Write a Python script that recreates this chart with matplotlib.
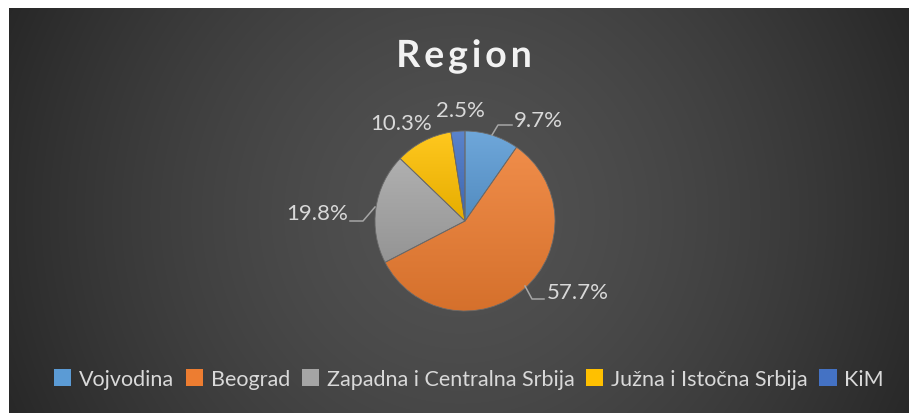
import numpy as np
import matplotlib.pyplot as plt
from matplotlib.patches import Patch
import matplotlib.colors as mcolors
import matplotlib.patheffects as pe

plt.rcParams['font.family'] = ['Lato', 'DejaVu Sans']

title = 'Region'
regions = ['Vojvodina', 'Beograd', 'Zapadna i Centralna Srbija', 'Južna i Istočna Srbija', 'KiM']
shares = [9.7, 57.7, 19.8, 10.3, 2.5]
colors = ['#5B9BD5', '#ED7D31', '#A5A5A5', '#FFC000', '#4472C4']

W, H = 909, 414
fig = plt.figure(figsize=(W / 100, H / 100), dpi=100)
fig.patch.set_facecolor('white')

# radial gradient background (chart area from x=9, y=9)
bg = fig.add_axes([9 / W, 0, 1 - 9 / W, 1 - 9 / H])
yy, xx = np.mgrid[9:H, 9:W]
d = np.sqrt((xx - 460.0) ** 2 + (yy - 215.0) ** 2)
t = np.clip(d / 500.0, 0, 1) ** 1.5
g = (0x52 - (0x52 - 0x27) * t) / 255.0
bg.imshow(np.dstack([g, g, g]), aspect='auto', extent=[0, 1, 0, 1], origin='upper')
bg.set_axis_off()

# pie axes: center (465, 222), radius 90 px
R = 90
cx, cy = 465, 222
ax = fig.add_axes([(cx - R) / W, (H - cy - R) / H, 2 * R / W, 2 * R / H])
wedges, _ = ax.pie(shares, colors=colors, startangle=90, counterclock=False,
                   radius=1, wedgeprops=dict(edgecolor='#6a6a6a', linewidth=0.6))
ax.set_aspect('equal')
ax.set_axis_off()

# vertical gradient per slice, lighter at top
inv = ax.transData.inverted()
for w, c in zip(wedges, colors):
    base = np.array(mcolors.to_rgb(c))
    ext = w.get_path().get_extents(w.get_transform())
    top = base + (1 - base) * 0.12
    bot = base * 0.9
    v = np.linspace(0, 1, 64)[:, None, None]
    img = top[None, None, :] * (1 - v) + bot[None, None, :] * v
    img = np.repeat(img, 2, axis=1)
    (x0, y0), (x1, y1) = inv.transform([[ext.x0, ext.y0], [ext.x1, ext.y1]])
    im = ax.imshow(img, extent=[x0, x1, y0, y1], origin='upper', aspect='auto', zorder=1)
    im.set_clip_path(w)
    w.set_facecolor('none')
    w.set_zorder(2)
ax.set_xlim(-1, 1)
ax.set_ylim(-1, 1)

# data labels (pixel positions of label centers)
lab_col = '#D9D9D9'
lab_pos = [(538, 121), (578, 293), (317, 214), (401, 124), (460, 111)]
leaders = [[(492, 136), (498, 126), (512, 126)],
           [(525, 287), (532, 300), (544, 300)],
           [(375, 208), (363, 222), (350, 222)],
           None, None]
for s, (px, py), ln in zip(shares, lab_pos, leaders):
    fig.text(px / W, 1 - py / H, f'{s:.1f}%', color=lab_col, fontsize=16,
             ha='center', va='center')
    if ln:
        xs = [p[0] / W for p in ln]
        ys = [1 - p[1] / H for p in ln]
        fig.add_artist(plt.Line2D(xs, ys, color='#a6a6a6', linewidth=1.1))

# title with letter spacing
renderer = fig.canvas.get_renderer()
chars = []
total = 0
spacing = 4
for ch in title:
    tt = fig.text(0, 0, ch, color='#F2F2F2', fontsize=27, fontweight='bold',
                  ha='left', va='baseline')
    wpx = tt.get_window_extent(renderer).width
    chars.append((tt, wpx))
    total += wpx + spacing
total -= spacing
x = 464 - total / 2
for tt, wpx in chars:
    tt.set_position((x / W, 1 - 68 / H))
    tt.set_path_effects([pe.SimpleLineShadow(offset=(1, -1.5), alpha=0.4), pe.Normal()])
    x += wpx + spacing

handles = [Patch(facecolor=c, edgecolor='none') for c in colors]
leg = fig.legend(handles, regions, loc='center', bbox_to_anchor=(469 / W, 1 - 380 / H),
                 ncol=5, frameon=False, fontsize=15.5, handlelength=0.8, handleheight=0.8,
                 handletextpad=0.35, columnspacing=0.55, labelcolor=lab_col)

fig.savefig('out.png', dpi=100)
